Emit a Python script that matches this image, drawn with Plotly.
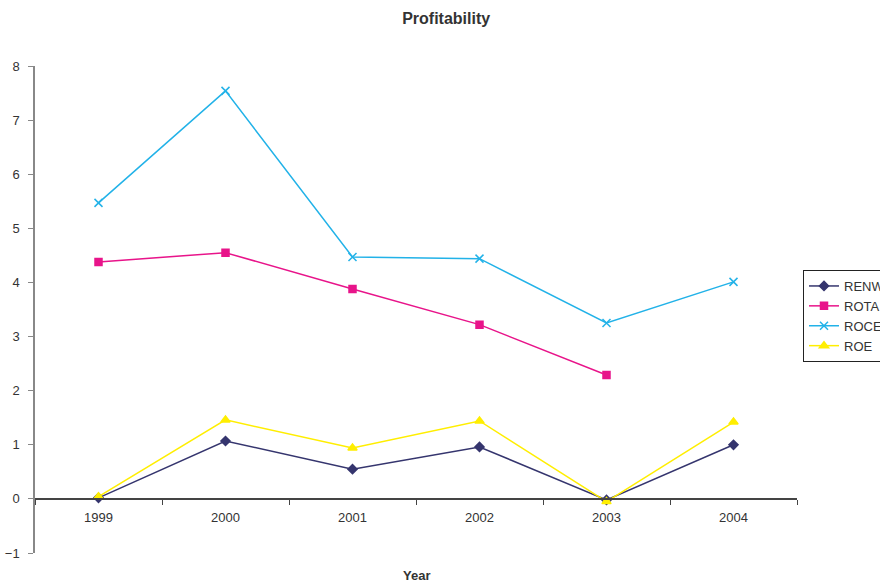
import plotly.graph_objects as go

# Profitability ratios by year
years = ["1999", "2000", "2001", "2002", "2003", "2004"]
renw = [0.02, 1.07, 0.55, 0.96, -0.02, 1.00]
rota = [4.38, 4.55, 3.88, 3.22, 2.29, None]
roce = [5.47, 7.54, 4.47, 4.44, 3.25, 4.01]
roe = [0.04, 1.46, 0.94, 1.44, -0.05, 1.42]

y_ticks = [-1, 0, 1, 2, 3, 4, 5, 6, 7, 8]

FONT = "Liberation Sans, Arial, sans-serif"

series = [
    ("RENW", renw, "#35356E", "diamond", 7),
    ("ROTA", rota, "#E8148A", "square", 7),
    ("ROCE", roce, "#22B2E8", "x-thin", 8),
    ("ROE", roe, "#FFEE00", "triangle-up", 8),
]

fig = go.Figure()
for name, vals, color, symbol, size in series:
    fig.add_trace(go.Scatter(
        x=years, y=vals, name=name, mode="lines+markers",
        line=dict(color=color, width=1.5),
        marker=dict(symbol=symbol, size=size, color=color,
                    line=dict(color=color, width=1.5)),
        connectgaps=False,
    ))

ymin, ymax = y_ticks[0], y_ticks[-1]

fig.update_layout(
    width=880, height=582,
    margin=dict(l=35, r=83, t=66, b=29, autoexpand=False),
    paper_bgcolor="white", plot_bgcolor="white",
    font=dict(family=FONT, size=13, color="#333333"),
    title=dict(text="<b>Profitability</b>", x=0.507, xanchor="center",
               y=1 - 18 / 582, yanchor="middle",
               font=dict(family=FONT, size=16, color="#333333")),
    showlegend=True,
    legend=dict(xref="container", x=803 / 880, xanchor="left",
                yref="container", y=1 - 270 / 582, yanchor="top",
                bordercolor="#222222", borderwidth=1, bgcolor="white",
                font=dict(family=FONT, size=13, color="#333333"),
                tracegroupgap=0, itemwidth=30),
    xaxis=dict(
        type="category", range=[-0.5, 5.5],
        anchor="free", position=(0 - ymin) / (ymax - ymin),
        showline=True, linecolor="#444444", linewidth=1.5,
        ticks="outside", tickson="boundaries", ticklen=5,
        tickcolor="#444444", showgrid=False, zeroline=False,
        ticklabelstandoff=7,
        tickfont=dict(size=13, color="#333333"),
    ),
    yaxis=dict(
        range=[ymin, ymax], tickvals=y_ticks,
        showline=True, linecolor="#888888", linewidth=1.5,
        ticks="outside", ticklen=5, tickcolor="#888888",
        showgrid=False, zeroline=False,
        ticklabelstandoff=6,
        tickfont=dict(size=13, color="#333333"),
    ),
    annotations=[dict(text="<b>Year</b>", xref="paper", yref="paper",
                      x=0.5, y=-22 / 487, xanchor="center", yanchor="middle",
                      showarrow=False,
                      font=dict(family=FONT, size=13, color="#333333"))],
)

fig.write_html("out.html")
